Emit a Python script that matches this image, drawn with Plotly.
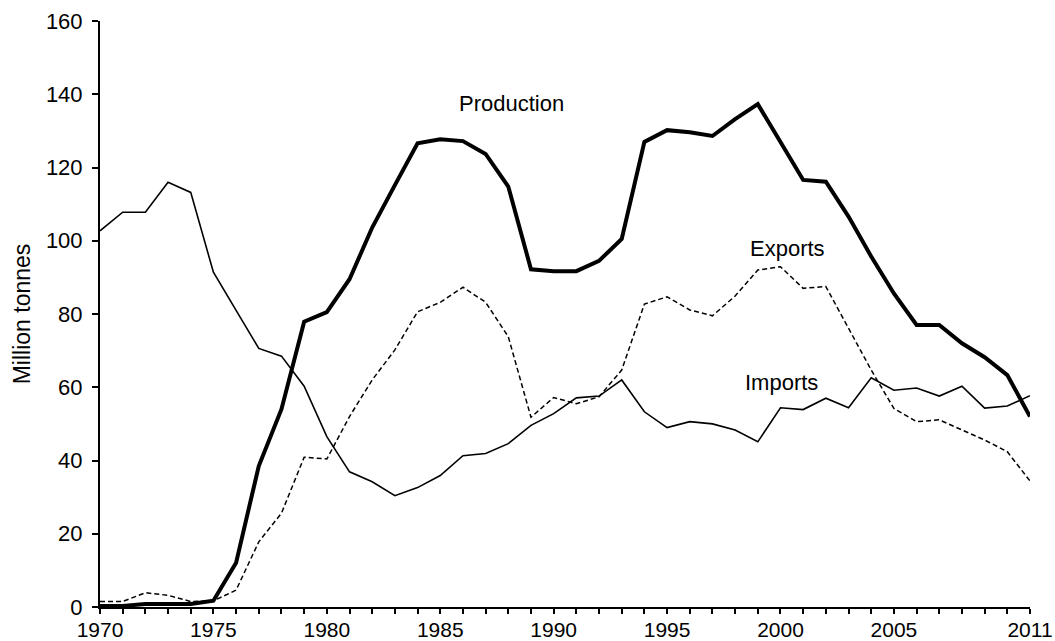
import plotly.graph_objects as go

years = list(range(1970, 2012))

production = [0.3, 0.3, 0.8, 0.8, 0.8, 1.7, 12.1, 38.5, 54.0, 77.9,
              80.5, 89.5, 103.6, 115.2, 126.6, 127.7, 127.2, 123.7, 114.8, 92.2,
              91.7, 91.7, 94.5, 100.5, 127.0, 130.2, 129.6, 128.6, 133.2, 137.3,
              127.1, 116.6, 116.1, 106.6, 95.7, 85.6, 77.0, 77.0, 72.0, 68.2,
              63.3, 52.0]

imports = [102.7, 107.8, 107.8, 116.0, 113.2, 91.4, 81.0, 70.6, 68.5, 60.3,
           46.5, 36.9, 34.2, 30.4, 32.6, 35.9, 41.3, 41.9, 44.6, 49.6,
           52.8, 57.1, 57.6, 62.0, 53.3, 49.0, 50.6, 50.0, 48.3, 45.1,
           54.4, 53.9, 57.0, 54.4, 62.6, 59.2, 59.8, 57.6, 60.3, 54.3,
           54.9, 57.7]

exports = [1.5, 1.5, 3.9, 3.2, 1.5, 1.7, 4.6, 17.8, 25.6, 40.9,
           40.4, 52.0, 62.0, 70.2, 80.6, 83.2, 87.3, 83.2, 73.8, 51.8,
           57.2, 55.5, 57.4, 64.7, 82.7, 84.7, 81.1, 79.5, 84.9, 92.0,
           92.9, 87.0, 87.5, 76.0, 64.7, 54.2, 50.6, 51.1, 48.3, 45.6,
           42.4, 34.4]

labelled_years = [1970, 1975, 1980, 1985, 1990, 1995, 2000, 2005, 2011]
y_ticks = [0, 20, 40, 60, 80, 100, 120, 140, 160]

series_labels = ["Production", "Exports", "Imports"]
label_x = [1988.16, 2000.33, 2000.03]
label_y = [137.6, 98.0, 61.2]

FONT = "Liberation Sans, Arial, sans-serif"

fig = go.Figure()
fig.add_trace(go.Scatter(x=years, y=imports, mode="lines", name="Imports",
                         line=dict(color="black", width=1.6)))
fig.add_trace(go.Scatter(x=years, y=exports, mode="lines", name="Exports",
                         line=dict(color="black", width=1.5, dash="5px,3px")))
fig.add_trace(go.Scatter(x=years, y=production, mode="lines", name="Production",
                         line=dict(color="black", width=4)))

for t, x, y in zip(series_labels, label_x, label_y):
    fig.add_annotation(x=x, y=y, text=t, showarrow=False,
                       font=dict(family=FONT, size=22, color="black"))

fig.update_layout(
    width=1055, height=641,
    margin=dict(l=100, r=25, t=21, b=34),
    paper_bgcolor="white", plot_bgcolor="white",
    showlegend=False,
    font=dict(family=FONT, size=22, color="black"),
)
fig.update_xaxes(
    range=[1970, 2011],
    automargin=False,
    tickmode="array",
    tickvals=years,
    ticktext=[str(y) if y in labelled_years else "" for y in years],
    ticks="outside", ticklen=5, tickwidth=1.5, tickcolor="black",
    ticklabelstandoff=-2,
    showline=True, linecolor="black", linewidth=2,
    showgrid=False, zeroline=False,
    tickfont=dict(family=FONT, size=21, color="black"),
)
fig.update_yaxes(
    range=[0, 160],
    automargin=False,
    tickmode="array", tickvals=y_ticks,
    ticks="outside", ticklen=6, tickwidth=1.5, tickcolor="black",
    ticklabelstandoff=5,
    showline=True, linecolor="black", linewidth=2,
    showgrid=False, zeroline=False,
    tickfont=dict(family=FONT, size=22, color="black"),
    title=dict(text="Million tonnes", standoff=9,
               font=dict(family=FONT, size=23, color="black")),
)

# remove the page's default body margin so the figure fills the window exactly
fig.write_html(
    "out.html",
    config={"displayModeBar": False},
    post_script="document.body.style.margin='0';document.body.style.overflow='hidden';",
)
